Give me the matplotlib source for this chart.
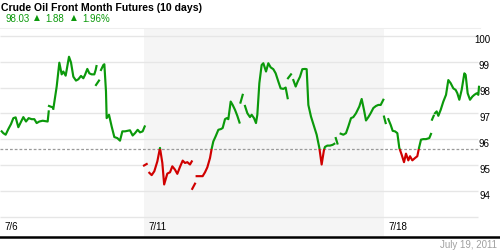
import numpy as np
import matplotlib
matplotlib.use("Agg")
import matplotlib.pyplot as plt
from matplotlib.patches import Rectangle
from matplotlib.lines import Line2D
from matplotlib.transforms import offset_copy, blended_transform_factory

# ---------------- data ----------------
title = "Crude Oil Front Month Futures (10 days)"
last_price = "98.03"
change = "1.88"
change_pct = "1.96%"
date_stamp = "July 19, 2011"
prev_close = 95.64

day_labels = ["7/6", "7/11", "7/18"]
day_label_pos = [0, 3, 8]          # trading-day index
shaded_week = (3, 8)               # trading days 7/11 - 7/15
y_grid = [93, 94, 95, 96, 97, 98, 99, 100]
y_labels = [94, 95, 96, 97, 98, 99, 100]

# time in trading days since 7/6 open; None marks a break in the line
times = [
    0.035, 0.069, 0.118, 0.174, 0.229, 0.278, 0.326, 0.382, 0.431, 0.486, 0.542, 0.597,
    0.660, 0.715, 0.764, 0.819, 0.889, 0.993, 1.015, None,
    1.021, 1.090, None,
    1.111, 1.181, 1.236, 1.285, 1.319, 1.368, 1.4375, 1.479, 1.528, 1.583, 1.632, 1.6875,
    1.736, 1.771, 1.819, 1.861, 1.910, 1.965, 1.993, 2.010, None,
    2.000, 2.0625, None,
    2.104, 2.153, 2.174, 2.208, 2.222, 2.271, 2.326, 2.382, 2.444, 2.500, 2.549, 2.604,
    2.660, 2.708, 2.764, 2.8125, 2.868, 2.917, 2.972, 3.015, None,
    3.000, 3.056, None,
    3.111, 3.160, 3.215, 3.278, 3.333, 3.382, 3.420, 3.486, 3.542, 3.590, 3.646, 3.694,
    3.750, 3.806, 3.854, 3.903, 3.958, 3.995, None,
    4.005, 4.0625, None,
    4.097, 4.153, 4.222, 4.271, 4.319, 4.375, 4.410, 4.444, 4.493, 4.549, 4.604, 4.639,
    4.6875, 4.722, 4.757, 4.806, 4.847, 4.896, 4.944, 4.990, None,
    5.010, 5.056, None,
    5.104, 5.153, 5.208, 5.243, 5.292, 5.333, 5.361, 5.403, 5.451, 5.486, 5.542, 5.590,
    5.639, 5.694, 5.743, 5.799, 5.847, 5.903, 5.951, 5.993, None,
    6.000, 6.0625, None,
    6.111, 6.160, 6.201, 6.250, 6.299, 6.354, 6.389, 6.424, 6.479, 6.542, 6.597, 6.653,
    6.701, 6.750, 6.771, 6.819, 6.875, 6.931, 6.965, None,
    6.995, 7.030, None,
    7.097, 7.153, 7.208, 7.257, 7.3125, 7.361, 7.417, 7.486, 7.535, 7.583, 7.625, 7.674,
    7.722, 7.778, 7.833, 7.882, 7.931, 7.951, 7.986, None,
    8.000, 8.035, None,
    8.090, 8.139, 8.181, 8.229, 8.278, 8.319, 8.368, 8.417, 8.458, 8.507, 8.542, 8.590,
    8.646, 8.694, 8.729, 8.771, 8.819, 8.875, 8.944, 8.979, None,
    9.000, 9.035, None,
    9.0625, 9.097, 9.132, 9.181, 9.236, 9.292, 9.340, 9.389, 9.444, 9.493, 9.528, 9.569,
    9.618, 9.674, 9.701, 9.743, 9.792, 9.840, 9.882, 9.931, 9.965, 9.979,
]
prices = [
    96.31, 96.24, 96.18, 96.40, 96.59, 96.82, 96.85, 96.47, 96.65, 96.86, 96.69, 96.82,
    96.78, 96.78, 96.63, 96.69, 96.72, 96.69, 97.08, None,
    97.29, 97.24, None,
    97.18, 98.04, 98.96, 98.51, 98.62, 98.46, 99.19, 98.97, 98.42, 98.27, 98.32, 98.45,
    98.36, 98.49, 98.72, 98.55, 98.51, 98.51, 98.68, 98.83, None,
    98.10, 98.27, None,
    98.68, 98.87, 98.90, 97.85, 96.82, 96.95, 96.50, 96.09, 96.05, 95.95, 96.31, 96.31,
    96.33, 96.35, 96.15, 96.24, 96.37, 96.27, 96.31, 96.50, None,
    94.99, 95.05, None,
    94.71, 94.62, 94.77, 95.15, 95.67, 95.09, 94.26, 94.68, 94.73, 94.96, 94.83, 94.67,
    94.94, 95.18, 95.09, 95.12, 95.03, 95.15, None,
    94.09, 94.29, None,
    94.58, 94.58, 94.58, 94.73, 94.92, 95.28, 95.64, 95.92, 96.12, 96.37, 96.40, 96.44,
    96.78, 96.82, 96.78, 97.46, 97.33, 97.14, 96.91, 96.65, None,
    97.42, 97.72, None,
    97.29, 97.01, 96.86, 96.95, 96.82, 96.63, 96.95, 98.17, 98.87, 98.94, 98.62, 98.94,
    98.78, 98.71, 98.55, 98.23, 97.97, 97.95, 98.00, 97.59, None,
    98.36, 98.51, None,
    98.29, 98.04, 98.23, 98.42, 98.71, 98.72, 98.71, 97.33, 96.88, 96.50, 96.18, 95.67,
    95.03, 95.60, 95.71, 95.76, 95.76, 95.79, 95.83, None,
    96.05, 95.84, None,
    96.22, 96.18, 96.24, 96.50, 96.82, 96.86, 97.01, 97.27, 97.56, 97.14, 96.73, 96.86,
    97.01, 97.21, 97.29, 97.33, 97.33, 97.40, 97.53, None,
    96.88, 96.63, None,
    96.78, 96.56, 96.33, 96.31, 96.24, 95.67, 95.41, 95.12, 95.45, 95.19, 95.35, 95.19,
    95.28, 95.35, 95.67, 95.99, 96.01, 96.01, 96.05, 96.21, None,
    96.76, 96.91, None,
    97.01, 97.08, 96.91, 97.14, 97.46, 97.72, 98.29, 98.17, 97.97, 97.91, 97.78, 97.53,
    97.91, 98.55, 98.49, 97.78, 97.53, 97.65, 97.72, 97.78, 97.72, 98.03,
]

# ---------------- styling ----------------
GREEN = "#0b990b"
RED = "#d00000"
FONT = "Liberation Sans"

fig = plt.figure(figsize=(5, 2.5), dpi=100)
fig.patch.set_facecolor("white")

W, H = 500.0, 250.0
plot_top_px, plot_bot_px, plot_right_px = 28.0, 236.0, 480.0
ax = fig.add_axes([0, (H - plot_bot_px) / H, plot_right_px / W, (plot_bot_px - plot_top_px) / H])
ax.set_xlim(0, 10)
ax.set_ylim(92.27, 100.30)
ax.axis("off")

# shaded week
ax.axvspan(shaded_week[0], shaded_week[1], color="#f5f5f5", lw=0, zorder=0)

# gridlines
for g in y_grid:
    ax.plot([0, 9.96], [g, g], color="#e6e6e6", lw=1.0, zorder=1, solid_capstyle="butt")

# top light border
fig.add_artist(Line2D([0, plot_right_px / W], [(H - plot_top_px) / H] * 2, color="#eeeeee", lw=0.8))

# previous close dashed line
ax.plot([0, 9.96], [prev_close, prev_close], color="#9a9a9a", lw=0.9,
        dashes=(2.2, 1.6), zorder=2)

# price line with colour split at previous close
t = np.array([np.nan if v is None else v for v in times], dtype=float)
p = np.array([np.nan if v is None else v for v in prices], dtype=float)
green_line, = ax.plot(t, p, color=GREEN, lw=1.55, zorder=3, solid_joinstyle="round")
red_line, = ax.plot(t, p, color=RED, lw=1.55, zorder=3, solid_joinstyle="round")
green_line.set_clip_path(Rectangle((-1, prev_close), 12, 20, transform=ax.transData))
red_line.set_clip_path(Rectangle((-1, prev_close - 20), 12, 20, transform=ax.transData))

# y labels (right side)
trans_y = blended_transform_factory(ax.transAxes, ax.transData)
trans_y = offset_copy(trans_y, fig=fig, x=0, y=-4.5, units="dots")
for v in y_labels:
    ax.text(490 / plot_right_px, v, f"{v}", transform=trans_y, ha="right", va="center",
            fontsize=7, family=FONT, color="black", clip_on=False)

# x labels
trans_x = blended_transform_factory(ax.transData, ax.transAxes)
trans_x = offset_copy(trans_x, fig=fig, x=4, y=0, units="dots")
for lab, d in zip(day_labels, day_label_pos):
    ax.text(d, (plot_bot_px - 227.5) / (plot_bot_px - plot_top_px), lab, transform=trans_x,
            ha="left", va="center", fontsize=7, family=FONT, color="black")

# bottom black rule
fig.add_artist(Line2D([0, 1], [(H - 237.2) / H] * 2, color="black", lw=1.8))

# date stamp
fig.text(497 / W, (H - 245) / H, date_stamp, ha="right", va="center", fontsize=7,
         family=FONT, color="#a0a0a0")

# title and quote
fig.text(1 / W, (H - 8) / H, title, ha="left", va="center", fontsize=7.6,
         family=FONT, weight="bold", color="black")
qy = (H - 18.5) / H
fig.text(5 / W, qy, last_price, ha="left", va="center", fontsize=7, family=FONT, color=GREEN)
fig.text(34 / W, qy + 0.002, "\u25B2", ha="left", va="center", fontsize=5.5,
         family="DejaVu Sans", color=GREEN)
fig.text(45 / W, qy, change, ha="left", va="center", fontsize=7, family=FONT, color=GREEN)
fig.text(71 / W, qy + 0.002, "\u25B2", ha="left", va="center", fontsize=5.5,
         family="DejaVu Sans", color=GREEN)
fig.text(82 / W, qy, change_pct, ha="left", va="center", fontsize=7, family=FONT, color=GREEN)

fig.savefig("out.png", dpi=100, facecolor="white")
